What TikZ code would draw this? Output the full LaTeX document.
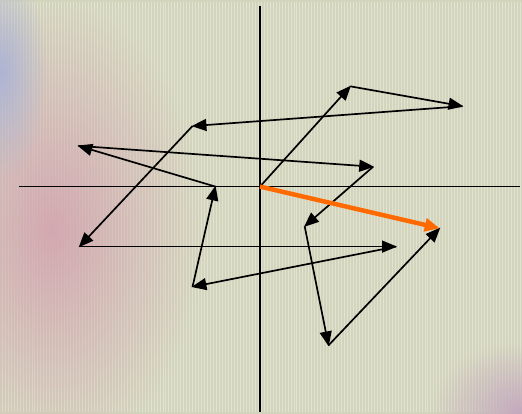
\documentclass[tikz,border=0pt]{standalone}
\usetikzlibrary{arrows.meta, fadings}
\definecolor{bgkhaki}{HTML}{D3D4BC}
\definecolor{bgpink}{HTML}{D2A3AF}
\definecolor{bgblue}{HTML}{AEB4D4}
\definecolor{gridkhaki}{HTML}{E2E2D2}
\definecolor{resorange}{HTML}{FF6A00}
\tikzfading[name=softblob, inner color=transparent!0, outer color=transparent!100]
\tikzset{
  axis/.style={line width=1.2pt, black},
  vec/.style={-{Triangle[length=15pt, width=12pt]}, line width=1.7pt, black, shorten >=-1pt},
  resvec/.style={-{Triangle[length=15pt, width=13pt]}, line width=4.5pt, resorange},
  gridline/.style={gridkhaki, line width=0.5pt},
  blob/.style={path fading=softblob},
}
\begin{document}
\begin{tikzpicture}[x=1pt, y=-1pt]
  % background
  \fill[bgkhaki] (-2,-2) rectangle (524,415);
  \draw[gridline, step=3] (0,0) grid (522,413);
  \begin{scope}
    \clip (-2,-2) rectangle (524,415);
    \fill[bgpink, blob, opacity=0.9] (50,230) ellipse (150 and 230);
    \fill[bgblue, blob] (0,70) ellipse (45 and 110);
    \fill[bgpink!60!bgblue, blob] (522,413) ellipse (90 and 70);
  \end{scope}
  \useasboundingbox (0,0) rectangle (522,413);
  % axes
  \coordinate (o) at (260,186);
  \draw[axis] (17,186) -- (522,186);
  \draw[axis] (260,4.5) -- (260,413);
  % points of the chain
  \coordinate (p1) at (351,85);
  \coordinate (p2) at (464,105);
  \coordinate (p3) at (192,125);
  \coordinate (p4) at (78,246.5);
  \coordinate (p5) at (397,246.5);
  \coordinate (p6) at (192,287);
  \coordinate (p7) at (215,186);
  \coordinate (p8) at (77,145);
  \coordinate (p9) at (374,166);
  \coordinate (p10) at (305,226);
  \coordinate (p11) at (329,346);
  \coordinate (p12) at (441,228);
  % vectors
  \draw[vec] (o) -- (p1);
  \foreach \a/\b in {p1/p2, p2/p3, p3/p4, p4/p5, p5/p6, p6/p7, p7/p8, p8/p9, p9/p10, p10/p11, p11/p12}
    \draw[vec] (\a) -- (\b);
  % resultant
  \draw[resvec] (o) -- (p12);
\end{tikzpicture}
\end{document}
